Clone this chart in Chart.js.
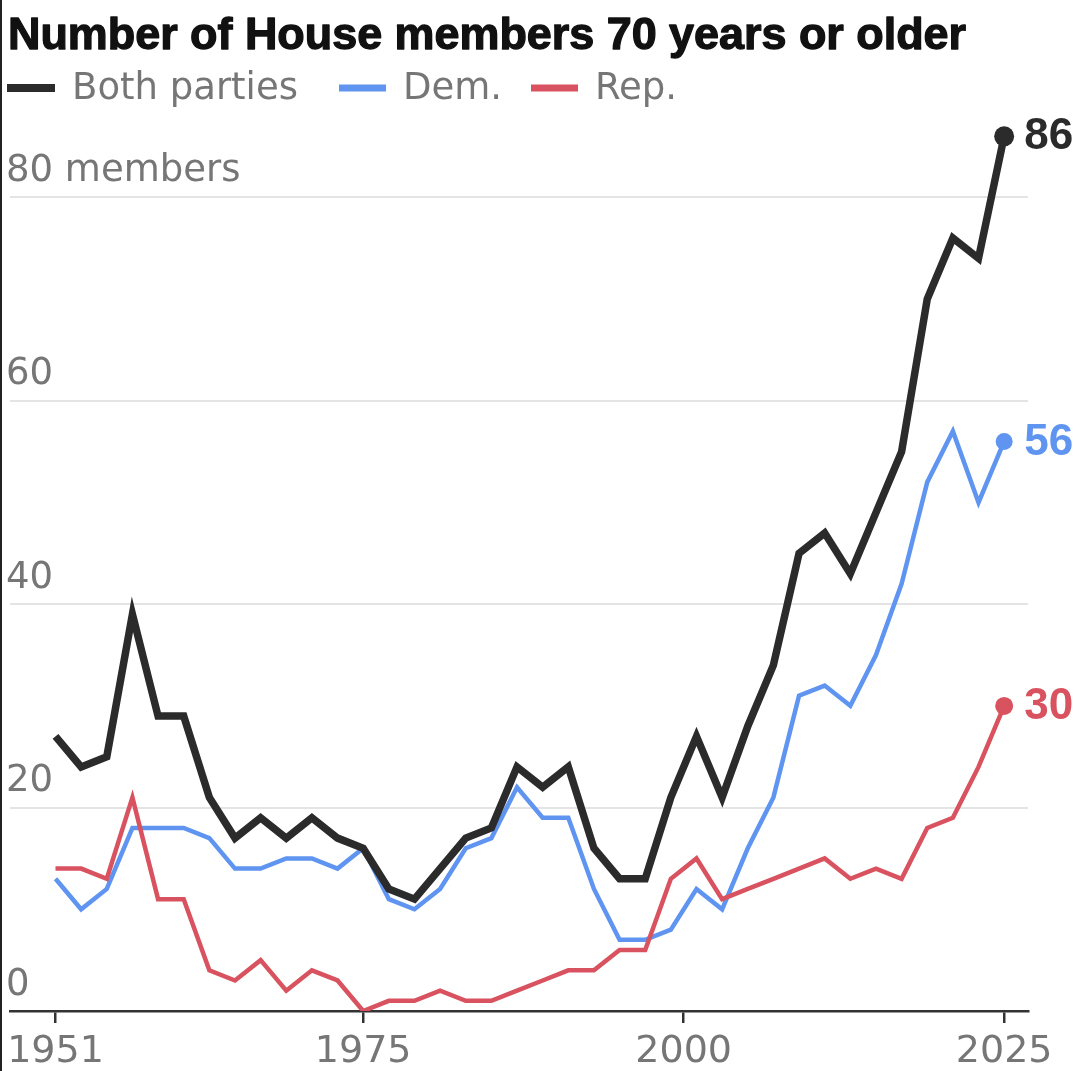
<!DOCTYPE html>
<html>
<head>
<meta charset="utf-8">
<script src="https://cdn.jsdelivr.net/npm/chart.js@4/dist/chart.umd.min.js"></script>
<style>
html,body{margin:0;padding:0;background:#fff;overflow:hidden}
#wrap{position:relative;width:1080px;height:1071px}
canvas{display:block}
</style>
</head>
<body>
<div id="wrap"><canvas id="c" width="1080" height="1071"></canvas></div>
<script>
// ---- data ----
const years = [1951,1953,1955,1957,1959,1961,1963,1965,1967,1969,1971,1973,1975,1977,1979,1981,1983,1985,1987,1989,1991,1993,1995,1997,1999,2001,2003,2005,2007,2009,2011,2013,2015,2017,2019,2021,2023,2025];
const bothParties = [27,24,25,39,29,29,21,17,19,17,19,17,16,12,11,14,17,18,24,22,24,16,13,13,21,27,21,28,34,45,47,43,49,55,70,76,74,86];
const democrats  = [13,10,12,18,18,18,17,14,14,15,15,14,16,11,10,12,16,17,22,19,19,12,7,7,8,12,10,16,21,31,32,30,35,42,52,57,50,56];
const republicans = [14,14,13,21,11,11,4,3,5,2,4,3,0,1,1,2,1,1,2,3,4,4,6,6,13,15,11,12,13,14,15,13,14,13,18,19,24,30];
const seriesNames = ['Both parties','Dem.','Rep.'];
const xTickYears = [1951,1975,2000,2025];
const yTickValues = [0,20,40,60,80];
const yUnitLabel = ' members';
const titleText = 'Number of House members 70 years or older';

// ---- styles ----
const COL_BOTH = '#2b2b2b', COL_DEM = '#5f95f0', COL_REP = '#d9525f';
const GRAY = '#767676';
const LABEL_FONT = '"DejaVu Sans", sans-serif';
const BOLD_FONT = '"Liberation Sans", Arial, sans-serif';

const toPts = arr => years.map((y,i)=>({x:y, y:arr[i]}));
const lastOnly = r => c => (c.dataIndex === years.length-1 ? r : 0);

const headerPlugin = {
  id:'header',
  afterDraw(chart){
    const ctx = chart.ctx;
    ctx.save();
    // left frame line
    ctx.fillStyle = '#222';
    ctx.fillRect(0,0,2,chart.height);
    // title (bold, condensed by horizontal scaling to the reference width)
    ctx.font = 'bold 45px ' + BOLD_FONT;
    ctx.fillStyle = '#111';
    ctx.strokeStyle = '#111';
    ctx.lineWidth = 1.3;
    ctx.lineJoin = 'round';
    ctx.textBaseline = 'alphabetic';
    const w = ctx.measureText(titleText).width;
    const target = 958;
    ctx.save();
    ctx.translate(8,49);
    ctx.scale(target/w,1);
    ctx.fillText(titleText,0,0);
    ctx.strokeText(titleText,0,0);
    ctx.restore();
    // legend
    const items = [
      {name:seriesNames[0], col:COL_BOTH, x0:7, x1:55, th:8, tx:72},
      {name:seriesNames[1], col:COL_DEM, x0:339, x1:386, th:7, tx:403},
      {name:seriesNames[2], col:COL_REP, x0:531, x1:578, th:7, tx:595}
    ];
    ctx.font = '37px ' + LABEL_FONT;
    items.forEach(it=>{
      ctx.fillStyle = it.col;
      ctx.fillRect(it.x0, 88 - it.th/2, it.x1-it.x0, it.th);
      ctx.fillStyle = GRAY;
      ctx.fillText(it.name, it.tx, 99);
    });
    ctx.restore();
  }
};

const endLabelPlugin = {
  id:'endLabels',
  afterDatasetsDraw(chart){
    const ctx = chart.ctx;
    ctx.save();
    ctx.font = 'bold 44px ' + BOLD_FONT;
    ctx.textBaseline = 'middle';
    ctx.textAlign = 'left';
    chart.data.datasets.forEach((ds,i)=>{
      const meta = chart.getDatasetMeta(i);
      const pt = meta.data[meta.data.length-1];
      ctx.fillStyle = ds.borderColor;
      ctx.fillText(String(ds.data[ds.data.length-1].y), pt.x + 20, pt.y + 1);
    });
    ctx.restore();
  }
};

new Chart(document.getElementById('c'), {
  type:'line',
  data:{
    datasets:[
      {label:seriesNames[0], data:toPts(bothParties), borderColor:COL_BOTH, backgroundColor:COL_BOTH, borderWidth:7.5, order:0,
       pointRadius:lastOnly(10), pointBorderWidth:0, pointHoverRadius:0, tension:0},
      {label:seriesNames[1], data:toPts(democrats), borderColor:COL_DEM, backgroundColor:COL_DEM, borderWidth:4.5, order:2,
       pointRadius:lastOnly(8.5), pointBorderWidth:0, pointHoverRadius:0, tension:0},
      {label:seriesNames[2], data:toPts(republicans), borderColor:COL_REP, backgroundColor:COL_REP, borderWidth:4.5, order:1,
       pointRadius:lastOnly(9), pointBorderWidth:0, pointHoverRadius:0, tension:0}
    ]
  },
  options:{
    responsive:false,
    animation:false,
    events:[],
    layout:{padding:{left:5, right:52, top:116, bottom:0}},
    plugins:{legend:{display:false}, tooltip:{enabled:false}, title:{display:false}},
    scales:{
      x:{
        type:'linear', min:1947.45, max:2026.86,
        afterBuildTicks: s => { s.ticks = xTickYears.map(v=>({value:v})); },
        afterFit: s => { s.height = 60; },
        grid:{drawOnChartArea:false, drawTicks:true, tickLength:12, color:'#333', lineWidth:2.5},
        border:{display:true, color:'#333', width:2.5},
        ticks:{font:{family:LABEL_FONT, size:38}, color:GRAY, padding:6, maxRotation:0, autoSkip:false,
               callback: v => String(v)}
      },
      y:{
        min:0, max:88,
        afterBuildTicks: s => { s.ticks = yTickValues.map(v=>({value:v})); },
        afterFit: s => { s.width = 0; },
        grid:{drawTicks:false, lineWidth:2, color: c => (c.tick && c.tick.value === 0) ? 'rgba(0,0,0,0)' : '#e4e4e4'},
        border:{display:false},
        ticks:{mirror:true, padding:-4, labelOffset:-26, font:{family:LABEL_FONT, size:37}, color:GRAY,
               callback: v => v === yTickValues[yTickValues.length-1] ? v + yUnitLabel : String(v)}
      }
    }
  },
  plugins:[headerPlugin, endLabelPlugin]
});
</script>
</body>
</html>
